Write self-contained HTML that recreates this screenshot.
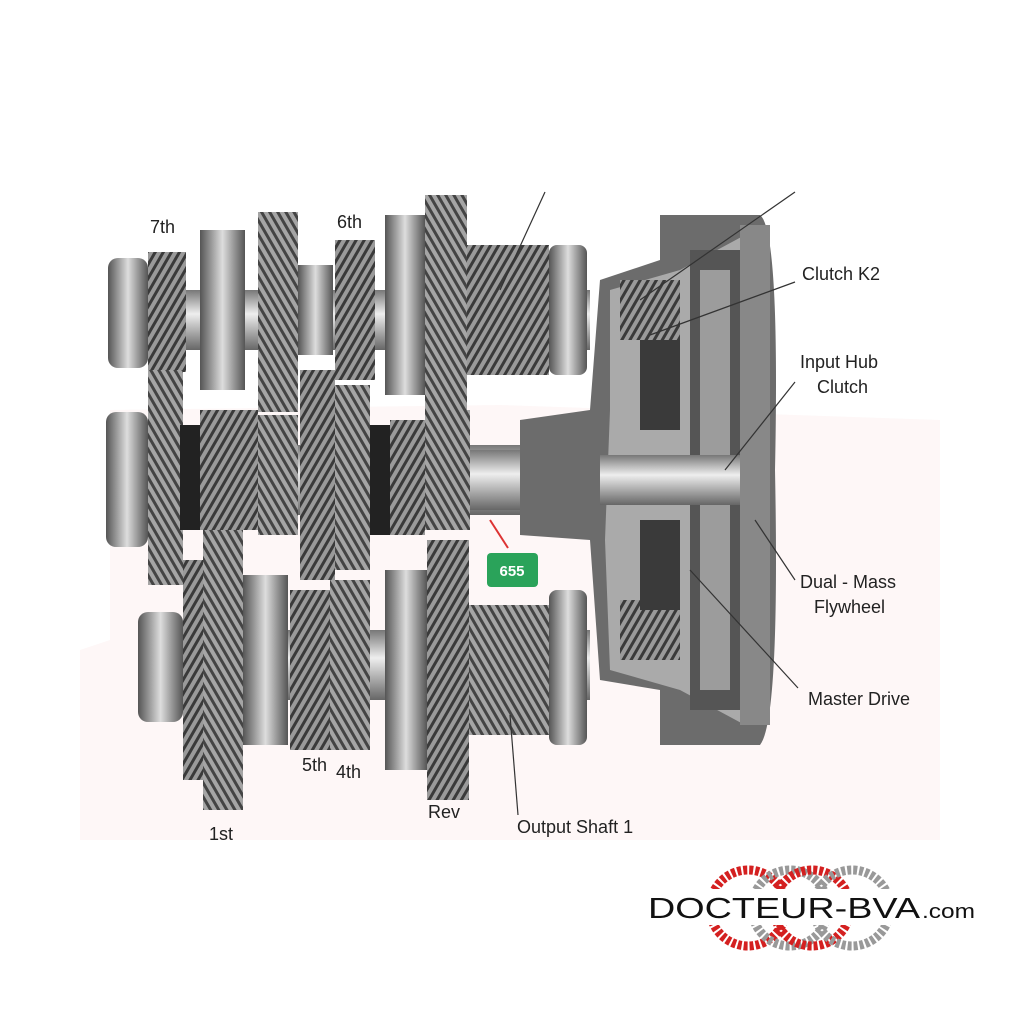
<!DOCTYPE html>
<html><head><meta charset="utf-8"><style>
body{margin:0;background:#fff;}
svg{display:block}
text{font-family:"Liberation Sans",sans-serif;fill:#222}
</style></head><body>
<svg width="1024" height="1024" viewBox="0 0 1024 1024">
<defs>
<pattern id="teeth" width="7" height="7" patternUnits="userSpaceOnUse" patternTransform="rotate(30)">
<rect width="7" height="7" fill="#9a9a9a"/><rect width="3" height="7" fill="#3a3a3a"/></pattern>
<pattern id="teeth2" width="7" height="7" patternUnits="userSpaceOnUse" patternTransform="rotate(-30)">
<rect width="7" height="7" fill="#a5a5a5"/><rect width="3" height="7" fill="#444"/></pattern>
<linearGradient id="shaft" x1="0" y1="0" x2="0" y2="1">
<stop offset="0" stop-color="#777"/><stop offset=".4" stop-color="#eee"/><stop offset="1" stop-color="#666"/></linearGradient>
<linearGradient id="drum" x1="0" y1="0" x2="1" y2="0">
<stop offset="0" stop-color="#555"/><stop offset=".5" stop-color="#ddd"/><stop offset="1" stop-color="#555"/></linearGradient>
</defs>
<rect width="1024" height="1024" fill="#fff"/>
<path d="M80 650 L110 640 L110 410 L500 405 L940 420 L940 840 L80 840 Z" fill="#fef7f7"/>
<rect x="110" y="290" width="480" height="60" fill="url(#shaft)"/>
<rect x="110" y="445" width="520" height="70" fill="url(#shaft)"/>
<rect x="140" y="630" width="450" height="70" fill="url(#shaft)"/>
<rect x="108" y="258" width="40" height="110" rx="10" fill="url(#drum)"/>
<rect x="148" y="252" width="38" height="120" fill="url(#teeth)"/>
<rect x="200" y="230" width="45" height="160" fill="url(#drum)"/>
<rect x="258" y="212" width="40" height="200" fill="url(#teeth2)"/>
<rect x="298" y="265" width="35" height="90" fill="url(#drum)"/>
<rect x="335" y="240" width="40" height="140" fill="url(#teeth)"/>
<rect x="385" y="215" width="40" height="180" fill="url(#drum)"/>
<rect x="425" y="195" width="42" height="230" fill="url(#teeth2)"/>
<rect x="467" y="245" width="82" height="130" fill="url(#teeth)"/>
<rect x="549" y="245" width="38" height="130" rx="8" fill="url(#drum)"/>
<rect x="106" y="412" width="42" height="135" rx="10" fill="url(#drum)"/>
<rect x="148" y="370" width="35" height="215" fill="url(#teeth2)"/>
<rect x="180" y="425" width="22" height="105" fill="#222"/>
<rect x="200" y="410" width="58" height="120" fill="url(#teeth)"/>
<rect x="258" y="415" width="40" height="120" fill="url(#teeth2)"/>
<rect x="300" y="370" width="35" height="210" fill="url(#teeth)"/>
<rect x="335" y="385" width="35" height="185" fill="url(#teeth2)"/>
<rect x="370" y="425" width="20" height="110" fill="#222"/>
<rect x="390" y="420" width="35" height="115" fill="url(#teeth)"/>
<rect x="425" y="410" width="45" height="120" fill="url(#teeth2)"/>
<rect x="138" y="612" width="45" height="110" rx="10" fill="url(#drum)"/>
<rect x="183" y="560" width="20" height="220" fill="url(#teeth)"/>
<rect x="203" y="530" width="40" height="280" fill="url(#teeth2)"/>
<rect x="243" y="575" width="45" height="170" fill="url(#drum)"/>
<rect x="290" y="590" width="40" height="160" fill="url(#teeth)"/>
<rect x="330" y="580" width="40" height="170" fill="url(#teeth2)"/>
<rect x="385" y="570" width="42" height="200" fill="url(#drum)"/>
<rect x="427" y="540" width="42" height="260" fill="url(#teeth)"/>
<rect x="469" y="605" width="80" height="130" fill="url(#teeth2)"/>
<rect x="549" y="590" width="38" height="155" rx="8" fill="url(#drum)"/>
<rect x="470" y="450" width="160" height="60" fill="url(#shaft)"/>
<path d="M600 280 L660 260 L660 215 L760 215 Q780 230 775 470 Q780 720 760 745 L660 745 L660 690 L600 680 L590 540 L520 535 L520 420 L590 410 Z" fill="#6c6c6c"/>
<path d="M610 290 L680 270 L745 235 L760 470 L745 725 L680 690 L610 670 L605 540 L610 410 Z" fill="#aaa"/>
<rect x="620" y="280" width="60" height="60" fill="url(#teeth)"/>
<rect x="620" y="600" width="60" height="60" fill="url(#teeth)"/>
<rect x="640" y="340" width="40" height="90" fill="#3a3a3a"/>
<rect x="640" y="520" width="40" height="90" fill="#3a3a3a"/>
<rect x="690" y="250" width="50" height="460" fill="#555"/>
<rect x="700" y="270" width="30" height="420" fill="#9c9c9c"/>
<rect x="600" y="455" width="160" height="50" fill="url(#shaft)"/>
<rect x="740" y="225" width="30" height="500" fill="#888"/>
<g stroke="#333" stroke-width="1.2" fill="none">
<line x1="545" y1="192" x2="500" y2="290"/>
<line x1="795" y1="192" x2="640" y2="300"/>
<line x1="795" y1="282" x2="650" y2="335"/>
<line x1="795" y1="382" x2="725" y2="470"/>
<line x1="795" y1="580" x2="755" y2="520"/>
<line x1="798" y1="688" x2="690" y2="570"/>
<line x1="518" y1="815" x2="510" y2="715"/>
</g>
<line x1="490" y1="520" x2="508" y2="548" stroke="#d33" stroke-width="2"/>
<rect x="487" y="553" width="51" height="34" rx="4" fill="#2aa35a"/>
<text x="512" y="576" font-size="15" font-weight="bold" text-anchor="middle" style="fill:#fff">655</text>
<g font-size="18">
<text x="150" y="233">7th</text>
<text x="337" y="228">6th</text>
<text x="802" y="280">Clutch K2</text>
<text x="800" y="368">Input Hub</text>
<text x="817" y="393">Clutch</text>
<text x="800" y="588">Dual - Mass</text>
<text x="814" y="613">Flywheel</text>
<text x="808" y="705">Master Drive</text>
<text x="517" y="833">Output Shaft 1</text>
<text x="428" y="818">Rev</text>
<text x="209" y="840">1st</text>
<text x="302" y="771">5th</text>
<text x="336" y="778">4th</text>
</g>
<g fill="none" stroke-width="9" stroke-dasharray="4 2">
<circle cx="748" cy="908" r="38" stroke="#d42020"/>
<circle cx="790" cy="908" r="38" stroke="#999"/>
<circle cx="812" cy="908" r="38" stroke="#d42020"/>
<circle cx="852" cy="908" r="38" stroke="#999"/>
</g>
<rect x="645" y="889" width="335" height="36" fill="#fff"/>
<text x="648" y="918" font-size="29" textLength="272" lengthAdjust="spacingAndGlyphs" style="fill:#111">DOCTEUR-BVA</text>
<text x="922" y="918" font-size="20" textLength="53" lengthAdjust="spacingAndGlyphs" style="fill:#111">.com</text>
</svg>
</body></html>
